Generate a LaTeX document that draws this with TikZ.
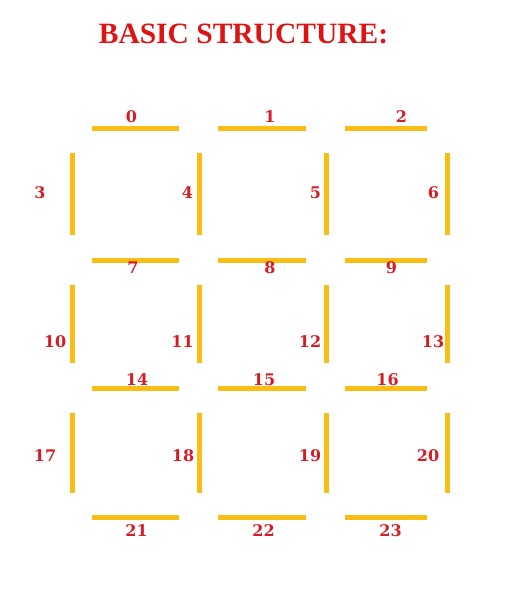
\documentclass[tikz,border=0pt]{standalone}
\usepackage{fontspec}
\setmainfont{Liberation Serif}
\newfontfamily\numfont{DejaVu Serif}
\usepackage{xcolor}
\definecolor{barcolor}{RGB}{249,190,22}
\definecolor{labelred}{RGB}{214,28,36}
\definecolor{titlered}{RGB}{222,20,20}

\begin{document}
\begin{tikzpicture}[x=1pt, y=-1pt,
  bar/.style={draw=barcolor, line width=5pt},
  num/.style={font=\numfont\bfseries\fontsize{16}{16}\selectfont, text=labelred, inner sep=0pt},
]
  \useasboundingbox (0,0) rectangle (509,615);

  % title
  \node[font=\bfseries\fontsize{29.5}{30}\selectfont, text=titlered] (title) at (243.5, 34) {BASIC STRUCTURE:};

  % horizontal bars
  \draw[bar] (92,128) -- (179,128);  \draw[bar] (218,128) -- (306,128);  \draw[bar] (345,128) -- (427,128);
  \draw[bar] (92,260) -- (179,260);  \draw[bar] (218,260) -- (306,260);  \draw[bar] (345,260) -- (427,260);
  \draw[bar] (92,388) -- (179,388);  \draw[bar] (218,388) -- (306,388);  \draw[bar] (345,388) -- (427,388);
  \draw[bar] (92,517) -- (179,517);  \draw[bar] (218,517) -- (306,517);  \draw[bar] (345,517) -- (427,517);

  % vertical bars
  \draw[bar] (72,153) -- (72,235);  \draw[bar] (199,153) -- (199,235);  \draw[bar] (326,153) -- (326,235);  \draw[bar] (447,153) -- (447,235);
  \draw[bar] (72,285) -- (72,363);  \draw[bar] (199,285) -- (199,363);  \draw[bar] (326,285) -- (326,363);  \draw[bar] (447,285) -- (447,363);
  \draw[bar] (72,413) -- (72,493);  \draw[bar] (199,413) -- (199,493);  \draw[bar] (326,413) -- (326,493);  \draw[bar] (447,413) -- (447,493);

  % row 1 labels
  \node[num] (l0) at (131.5,116.5) {0};
  \node[num] (l1) at (270,116.5) {1};
  \node[num] (l2) at (401.5,116.5) {2};
  \node[num] (l3) at (40,193) {3};
  \node[num] (l4) at (187.5,193) {4};
  \node[num] (l5) at (315.5,193) {5};
  \node[num] (l6) at (433.5,193) {6};

  % row 2 labels
  \node[num] (l7) at (133,268) {7};
  \node[num] (l8) at (270,268) {8};
  \node[num] (l9) at (391.5,268) {9};
  \node[num] (l10) at (55,342) {10};
  \node[num] (l11) at (182.5,342) {11};
  \node[num] (l12) at (310,342) {12};
  \node[num] (l13) at (433,342) {13};

  % row 3 labels
  \node[num] (l14) at (137,380) {14};
  \node[num] (l15) at (264,380) {15};
  \node[num] (l16) at (387.5,380) {16};
  \node[num] (l17) at (45,456) {17};
  \node[num] (l18) at (183,456) {18};
  \node[num] (l19) at (310,456) {19};
  \node[num] (l20) at (428,456) {20};

  % bottom labels
  \node[num] (l21) at (136.5,531) {21};
  \node[num] (l22) at (263.5,531) {22};
  \node[num] (l23) at (390.5,531) {23};
\end{tikzpicture}
\end{document}
